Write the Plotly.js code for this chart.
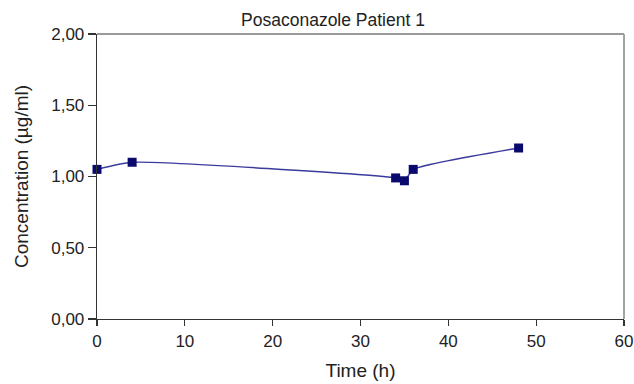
<!DOCTYPE html>
<html>
<head>
<meta charset="utf-8">
<script src="https://cdn.plot.ly/plotly-3.0.1.min.js"></script>
<style>html,body{margin:0;padding:0;background:#fff}#chart{width:634px;height:384px}</style>
</head>
<body>
<div id="chart"></div>
<script>
const timeH = [0, 4, 34, 35, 36, 48];
const concentration = [1.05, 1.10, 0.99, 0.97, 1.05, 1.20];
const yTicks = [0, 0.5, 1.0, 1.5, 2.0];
const xTicks = [0, 10, 20, 30, 40, 50, 60];

const trace = {
  x: timeH,
  y: concentration,
  mode: 'lines+markers',
  type: 'scatter',
  line: {color: '#3b3b9e', width: 1.4, shape: 'spline', smoothing: 0.5},
  marker: {symbol: 'square', size: 9, color: '#0a0a6e'},
  cliponaxis: false,
  hoverinfo: 'skip'
};

const layout = {
  width: 634, height: 384,
  margin: {l: 97, r: 10, t: 34, b: 65},
  paper_bgcolor: '#fff', plot_bgcolor: '#fff',
  separators: ',.',
  font: {family: 'Liberation Sans, Arial, sans-serif', color: '#222', size: 17},
  showlegend: false,
  title: {text: 'Posaconazole Patient 1', font: {size: 17.5, color: '#222'}, x: 333/634, xanchor: 'center', y: 1 - 20/384, yanchor: 'middle'},
  xaxis: {
    range: [0, 60], tickvals: xTicks, ticktext: xTicks.map(String),
    showgrid: false, zeroline: false,
    showline: true, linecolor: '#333', linewidth: 1.3,
    ticks: 'outside', ticklen: 6, tickcolor: '#333', tickwidth: 1.3,
    tickfont: {size: 17},
    title: {text: 'Time (h)', font: {size: 19}, standoff: 14}
  },
  yaxis: {
    range: [0, 2], tickvals: yTicks, tickformat: '.2f',
    showgrid: false, zeroline: false,
    showline: true, linecolor: '#333', linewidth: 1.3,
    ticks: 'outside', ticklen: 8, tickcolor: '#333', tickwidth: 1.3,
    tickfont: {size: 17},
    title: {text: 'Concentration (µg/ml)', font: {size: 19}, standoff: 17}
  },
  shapes: [
    {type: 'line', xref: 'paper', yref: 'paper', x0: 0, x1: 1, y0: 1, y1: 1, line: {color: '#999', width: 1.8}, layer: 'below'},
    {type: 'line', xref: 'paper', yref: 'paper', x0: 1, x1: 1, y0: 0, y1: 1, line: {color: '#999', width: 1.8}, layer: 'below'}
  ]
};

Plotly.newPlot('chart', [trace], layout, {staticPlot: true, displayModeBar: false});
</script>
</body>
</html>
